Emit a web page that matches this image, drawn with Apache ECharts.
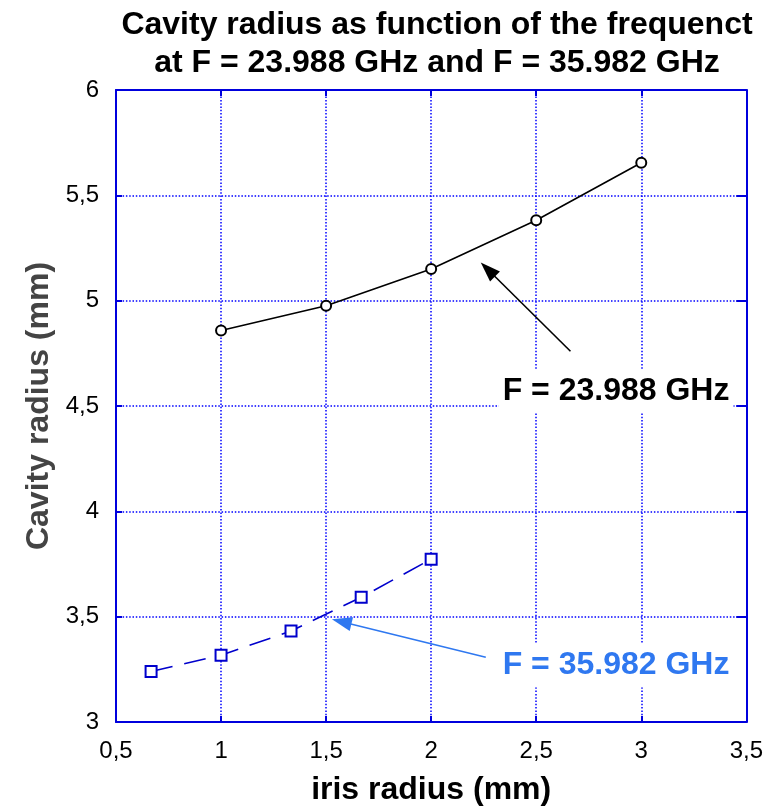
<!DOCTYPE html>
<html>
<head>
<meta charset="utf-8">
<script src="https://cdn.jsdelivr.net/npm/echarts@6/dist/echarts.min.js"></script>
<style>
  html, body { margin: 0; padding: 0; background: #fff; }
  #chart { width: 766px; height: 811px; }
</style>
</head>
<body>
<div id="chart"></div>
<script>
// Iris radius (mm) vs cavity radius (mm) at two frequencies
const irisA = [1, 1.5, 2, 2.5, 3];
const cavityA = [4.858, 4.976, 5.15, 5.382, 5.655];   // F = 23.988 GHz

const irisB = [0.667, 1, 1.333, 1.667, 2];
const cavityB = [3.24, 3.317, 3.432, 3.592, 3.773];   // F = 35.982 GHz

const titleLines = ['Cavity radius as function of the frequenct', 'at F = 23.988 GHz and F = 35.982 GHz'];
const labelA = 'F = 23.988 GHz';
const labelB = 'F = 35.982 GHz';

// annotation anchors in data units: [arrow tail, arrow head centre], label centre
const arrowA = [[2.663, 4.76], [2.27, 5.148]];
const arrowB = [[2.26, 3.307], [1.574, 3.476]];
const labelPosA = [2.88, 4.571];
const labelPosB = [2.88, 3.269];

const FONT = '"Liberation Sans", Arial, sans-serif';
const AXIS_BLUE = '#0000dd';
const GRID_BLUE = '#0000ff';
const LINE_B = '#0000cc';
const NOTE_B = '#2f78f0';

const comma = v => String(v).replace('.', ',');

const chart = echarts.init(document.getElementById('chart'), null, { renderer: 'canvas' });

const baseAxis = {
  type: 'value',
  interval: 0.5,
  axisLine: { show: true, onZero: false, lineStyle: { color: AXIS_BLUE, width: 2 } },
  axisTick: { show: true, inside: true, length: 6, lineStyle: { color: AXIS_BLUE, width: 2 } }
};

chart.setOption({
  animation: false,
  backgroundColor: '#fff',
  title: {
    text: titleLines.join('\n'),
    left: 432, top: 1, textAlign: 'center',
    textStyle: { fontFamily: FONT, fontSize: 32, fontWeight: 'bold', color: '#000', lineHeight: 38 }
  },
  grid: { left: 116, right: 17, top: 90, bottom: 89 },
  xAxis: [
    Object.assign({}, baseAxis, {
      min: 0.5, max: 3.5, position: 'bottom',
      name: 'iris radius (mm)', nameLocation: 'middle', nameGap: 52,
      nameTextStyle: { fontFamily: FONT, fontSize: 32, fontWeight: 'bold', color: '#000' },
      axisLabel: { fontFamily: FONT, fontSize: 24, color: '#000', margin: 17, formatter: comma },
      splitLine: { show: true, lineStyle: { color: GRID_BLUE, width: 1.5, type: [1.5, 1.8] } }
    }),
    Object.assign({}, baseAxis, {
      min: 0.5, max: 3.5, position: 'top',
      axisLabel: { show: false }, splitLine: { show: false }
    })
  ],
  yAxis: [
    Object.assign({}, baseAxis, {
      min: 3, max: 6, position: 'left',
      name: 'Cavity radius (mm)', nameLocation: 'middle', nameGap: 60,
      nameTextStyle: { fontFamily: FONT, fontSize: 32, fontWeight: 'bold', color: '#444' },
      axisLabel: { fontFamily: FONT, fontSize: 24, color: '#000', margin: 17, formatter: comma },
      splitLine: { show: true, lineStyle: { color: GRID_BLUE, width: 1.5, type: [1.5, 1.8] } }
    }),
    Object.assign({}, baseAxis, {
      min: 3, max: 6, position: 'right',
      axisTick: { show: true, inside: true, length: 10, lineStyle: { color: AXIS_BLUE, width: 2 } },
      axisLabel: { show: false }, splitLine: { show: false }
    })
  ],
  series: [
    {
      name: labelA,
      type: 'line',
      data: irisA.map((x, i) => [x, cavityA[i]]),
      symbol: 'emptyCircle', symbolSize: 10,
      lineStyle: { color: '#000', width: 1.6 },
      itemStyle: { color: '#000', borderColor: '#000', borderWidth: 1.6 },
      z: 3,
      markLine: {
        silent: true, symbol: ['none', 'triangle'], symbolSize: [14, 20],
        label: { show: false },
        lineStyle: { color: '#000', width: 1.6, type: 'solid' },
        data: [[{ coord: arrowA[0] }, { coord: arrowA[1] }]]
      }
    },
    {
      name: labelB,
      type: 'line',
      data: irisB.map((x, i) => [x, cavityB[i]]),
      symbol: 'emptyRect', symbolSize: 11,
      lineStyle: { color: LINE_B, width: 1.6, type: [22, 12] },
      itemStyle: { color: LINE_B, borderColor: LINE_B, borderWidth: 1.6 },
      z: 3,
      markLine: {
        silent: true, symbol: ['none', 'triangle'], symbolSize: [14, 20],
        label: { show: false },
        lineStyle: { color: NOTE_B, width: 1.6, type: 'solid' },
        data: [[{ coord: arrowB[0] }, { coord: arrowB[1] }]]
      }
    },
    {
      type: 'scatter',
      symbolSize: 1,
      itemStyle: { color: 'rgba(0,0,0,0)', opacity: 1 },
      z: 5,
      data: [
        { value: labelPosA, name: labelA, label: { color: '#000' } },
        { value: labelPosB, name: labelB, label: { color: NOTE_B } }
      ],
      label: {
        show: true, position: 'inside', formatter: p => p.name,
        fontFamily: FONT, fontSize: 32, fontWeight: 'bold',
        backgroundColor: '#fff', padding: [6, 4, 6, 4]
      }
    }
  ]
});
</script>
</body>
</html>
